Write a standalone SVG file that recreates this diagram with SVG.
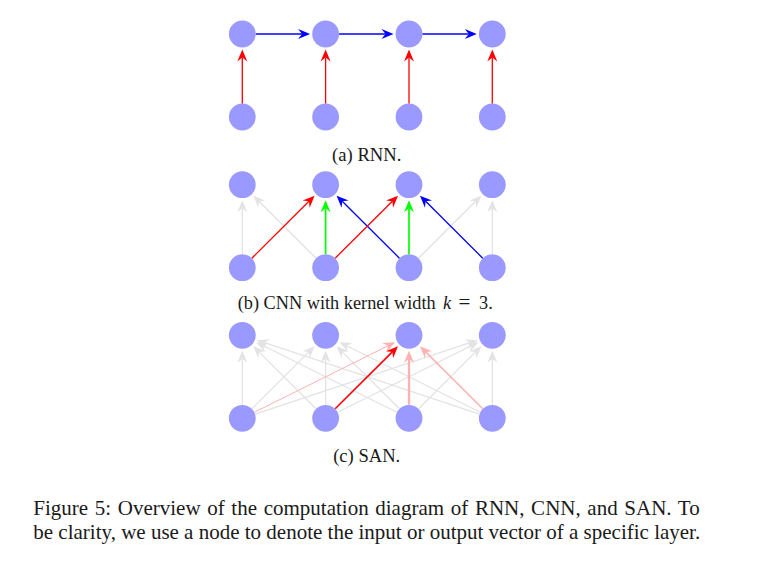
<svg xmlns="http://www.w3.org/2000/svg" width="759" height="579" viewBox="0 0 759 579">
<style>
.n{fill:#9999ff}
.e{fill:none;stroke-width:1.3}
.b{stroke:#0000ff;marker-end:url(#ah-b)}
.r{stroke:#ff0000;marker-end:url(#ah-r)}
.g{stroke:#00ff00;stroke-width:1.7;marker-end:url(#ah-g)}
.k{stroke:#e3e3e3;marker-end:url(#ah-k)}
.p{stroke:#ffb0b0;marker-end:url(#ah-p)}
text{font-family:"Liberation Serif","Times New Roman",serif;fill:#1a1a1a}
.sub{font-size:18.6px;text-anchor:middle}
.cap{font-size:21px}
</style>
<defs>
<marker id="ah-b" markerUnits="userSpaceOnUse" markerWidth="14" markerHeight="12" viewBox="-5 -6 14 12" refX="0" refY="0" orient="auto"><path d="M8,0 L-4,-5 L0,0 L-4,5 Z" fill="#0000ff"/></marker>
<marker id="ah-r" markerUnits="userSpaceOnUse" markerWidth="14" markerHeight="12" viewBox="-5 -6 14 12" refX="0" refY="0" orient="auto"><path d="M8,0 L-4,-5 L0,0 L-4,5 Z" fill="#ff0000"/></marker>
<marker id="ah-g" markerUnits="userSpaceOnUse" markerWidth="14" markerHeight="12" viewBox="-5 -6 14 12" refX="0" refY="0" orient="auto"><path d="M8,0 L-4,-5 L0,0 L-4,5 Z" fill="#00ff00"/></marker>
<marker id="ah-k" markerUnits="userSpaceOnUse" markerWidth="14" markerHeight="12" viewBox="-5 -6 14 12" refX="0" refY="0" orient="auto"><path d="M8,0 L-4,-5 L0,0 L-4,5 Z" fill="#e3e3e3"/></marker>
<marker id="ah-p" markerUnits="userSpaceOnUse" markerWidth="14" markerHeight="12" viewBox="-5 -6 14 12" refX="0" refY="0" orient="auto"><path d="M8,0 L-4,-5 L0,0 L-4,5 Z" fill="#ffb0b0"/></marker>
</defs>
<rect width="759" height="579" fill="#ffffff"/>

<!-- RNN nodes -->
<g id="rnn-top1"><circle class="n" cx="242.3" cy="34" r="13.4"/></g>
<g id="rnn-top2"><circle class="n" cx="325.6" cy="34" r="13.4"/></g>
<g id="rnn-top3"><circle class="n" cx="409" cy="34" r="13.4"/></g>
<g id="rnn-top4"><circle class="n" cx="492.3" cy="34" r="13.4"/></g>
<g id="rnn-bot1"><circle class="n" cx="242.3" cy="117" r="13.4"/></g>
<g id="rnn-bot2"><circle class="n" cx="325.6" cy="117" r="13.4"/></g>
<g id="rnn-bot3"><circle class="n" cx="409" cy="117" r="13.4"/></g>
<g id="rnn-bot4"><circle class="n" cx="492.3" cy="117" r="13.4"/></g>

<!-- CNN nodes -->
<g id="cnn-top1"><circle class="n" cx="242.3" cy="184.7" r="13.4"/></g>
<g id="cnn-top2"><circle class="n" cx="325.6" cy="184.7" r="13.4"/></g>
<g id="cnn-top3"><circle class="n" cx="409" cy="184.7" r="13.4"/></g>
<g id="cnn-top4"><circle class="n" cx="492.3" cy="184.7" r="13.4"/></g>
<g id="cnn-bot1"><circle class="n" cx="242.3" cy="267.7" r="13.4"/></g>
<g id="cnn-bot2"><circle class="n" cx="325.6" cy="267.7" r="13.4"/></g>
<g id="cnn-bot3"><circle class="n" cx="409" cy="267.7" r="13.4"/></g>
<g id="cnn-bot4"><circle class="n" cx="492.3" cy="267.7" r="13.4"/></g>

<!-- SAN nodes -->
<g id="san-top1"><circle class="n" cx="242.3" cy="335.3" r="13.4"/></g>
<g id="san-top2"><circle class="n" cx="325.6" cy="335.3" r="13.4"/></g>
<g id="san-top3"><circle class="n" cx="409" cy="335.3" r="13.4"/></g>
<g id="san-top4"><circle class="n" cx="492.3" cy="335.3" r="13.4"/></g>
<g id="san-bot1"><circle class="n" cx="242.3" cy="418.3" r="13.4"/></g>
<g id="san-bot2"><circle class="n" cx="325.6" cy="418.3" r="13.4"/></g>
<g id="san-bot3"><circle class="n" cx="409" cy="418.3" r="13.4"/></g>
<g id="san-bot4"><circle class="n" cx="492.3" cy="418.3" r="13.4"/></g>

<g id="connectors">
<!-- RNN -->
<path class="e b" d="M255.8,34 L302.1,34"/>
<path class="e b" d="M339.1,34 L385.5,34"/>
<path class="e b" d="M422.5,34 L468.8,34"/>
<path class="e r" d="M242.3,103.5 L242.3,57.5"/>
<path class="e r" d="M325.6,103.5 L325.6,57.5"/>
<path class="e r" d="M409,103.5 L409,57.5"/>
<path class="e r" d="M492.3,103.5 L492.3,57.5"/>

<!-- CNN -->
<path class="e k" d="M242.3,254.2 L242.3,208.2"/>
<path class="e k" d="M316.03,258.17 L258.95,201.29"/>
<path class="e k" d="M418.57,258.17 L475.65,201.29"/>
<path class="e k" d="M492.3,254.2 L492.3,208.2"/>
<path class="e r" d="M251.87,258.17 L308.95,201.29"/>
<path class="e g" d="M325.6,254.2 L325.6,208.2"/>
<path class="e b" d="M399.43,258.17 L342.25,201.29"/>
<path class="e r" d="M335.17,258.17 L392.35,201.29"/>
<path class="e g" d="M409,254.2 L409,208.2"/>
<path class="e b" d="M482.73,258.17 L425.65,201.29"/>

<!-- SAN -->
<path class="e k" d="M242.3,404.8 L242.3,358.8"/>
<path class="e k" d="M316.03,408.77 L258.95,351.89"/>
<path class="e k" d="M396.92,412.28 L263.34,345.78"/>
<path class="e k" d="M479.49,414.05 L264.6,342.71"/>
<path class="e k" d="M251.87,408.77 L308.95,351.89"/>
<path class="e k" d="M325.6,404.8 L325.6,358.8"/>
<path class="e k" d="M399.43,408.77 L342.25,351.89"/>
<path class="e k" d="M480.22,412.28 L346.64,345.78"/>
<path class="e k" d="M255.11,414.05 L470,342.71"/>
<path class="e k" d="M337.69,412.28 L471.26,345.78"/>
<path class="e k" d="M418.57,408.77 L475.65,351.89"/>
<path class="e k" d="M492.3,404.8 L492.3,358.8"/>
<path class="e p" style="stroke-width:1" d="M254.39,412.28 L387.96,345.78"/>
<path class="e p" style="stroke-width:2.3" d="M409,404.8 L409,358.8"/>
<path class="e p" style="stroke-width:1.5" d="M482.73,408.77 L425.65,351.89"/>
<path class="e r" style="stroke-width:1.6" d="M335.17,408.77 L392.35,351.89"/>
</g>

<text class="sub" x="366.7" y="160.5">(a) RNN.</text>
<text class="sub" y="309" style="text-anchor:start;font-size:18.3px"><tspan x="237.7">(b) CNN with kernel width</tspan><tspan x="443" font-style="italic">k</tspan><tspan x="458.5" font-size="21">=</tspan><tspan x="479">3.</tspan></text>
<text class="sub" x="366.7" y="461.5">(c) SAN.</text>

<text class="cap" x="33.3" y="514.5" word-spacing="1.4">Figure 5: Overview of the computation diagram of RNN, CNN, and SAN. To</text>
<text class="cap" x="33.3" y="538.5">be clarity, we use a node to denote the input or output vector of a specific layer.</text>
</svg>
